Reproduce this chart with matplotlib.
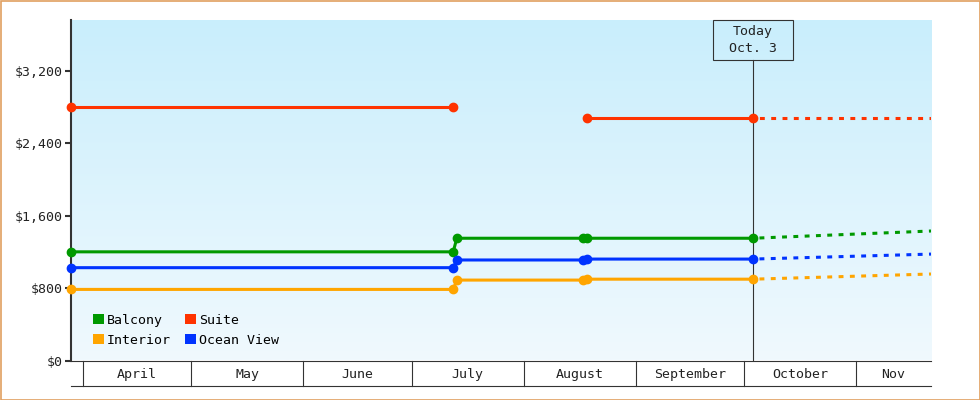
import numpy as np
import matplotlib.pyplot as plt
import matplotlib.dates as mdates
from matplotlib.colors import LinearSegmentedColormap
from matplotlib.patches import Rectangle, Patch

plt.rcParams['font.family'] = 'DejaVu Sans Mono'
plt.rcParams['font.size'] = 9.5

# price history (points are at noon, first point sits at the left edge)
price_dates = np.array(['2023-03-28T17:00', '2023-07-12T12:00', '2023-07-13T12:00',
                        '2023-08-17T12:00', '2023-08-18T12:00', '2023-10-03T12:00'],
                       dtype='datetime64[m]')
balcony = [1200, 1200, 1350, 1350, 1350, 1350]
interior = [785, 785, 888, 888, 898, 898]
ocean_view = [1025, 1025, 1110, 1110, 1120, 1120]
suite = [2800, 2800, np.nan, np.nan, 2675, 2675]

# forecast from today to the right edge
forecast_dates = np.array(['2023-10-03T12:00', '2023-11-21T18:00'], dtype='datetime64[m]')
balcony_fc = [1350, 1430]
interior_fc = [898, 955]
ocean_view_fc = [1120, 1175]
suite_fc = [2675, 2675]

today = np.datetime64('2023-10-03T12:00')
month_starts = np.array(['2023-04-01', '2023-05-01', '2023-06-01', '2023-07-01', '2023-08-01',
                         '2023-09-01', '2023-10-01', '2023-11-01'], dtype='datetime64[m]')
month_names = ['April', 'May', 'June', 'July', 'August', 'September', 'October', 'Nov']

y_ticks = [0, 800, 1600, 2400, 3200]
y_labels = ['$0', '$800', '$1,600', '$2,400', '$3,200']

series = [('Balcony', balcony, balcony_fc, '#009900'),
          ('Interior', interior, interior_fc, '#ffa500'),
          ('Suite', suite, suite_fc, '#ff3300'),
          ('Ocean View', ocean_view, ocean_view_fc, '#0033ff')]

dark = '#333333'
fig = plt.figure(figsize=(9.8, 4), dpi=100)
ax = fig.add_axes([71 / 980, 39.5 / 400, 860 / 980, 340.5 / 400])

# gradient background
cmap = LinearSegmentedColormap.from_list('bg', ['#f0f9fe', '#c9eefc'])
ax.imshow(np.linspace(0, 1, 256).reshape(-1, 1), cmap=cmap, origin='lower', aspect='auto',
          extent=[0, 1, 0, 1], transform=ax.transAxes, zorder=0)

for name, vals, fc, col in series:
    ax.plot(price_dates, vals, color=col, lw=2.2, marker='o', ms=6, clip_on=False, zorder=3)
    ax.plot(forecast_dates, fc, color=col, lw=2.2, linestyle=(1.6, (1.6, 2.1)), zorder=3)

ax.set_xlim(price_dates[0], forecast_dates[-1])
ax.set_ylim(0, 3760)
ax.set_yticks(y_ticks)
ax.set_yticklabels(y_labels)
ax.tick_params(axis='y', length=4, width=1.5, color=dark, pad=2, labelcolor='#222222')
ax.set_xticks([])

for s in ['top', 'right']:
    ax.spines[s].set_visible(False)
ax.spines['left'].set_linewidth(1.5)
ax.spines['left'].set_color(dark)
ax.spines['bottom'].set_linewidth(0.8)
ax.spines['bottom'].set_color(dark)

# month band under the axis
xt = ax.get_xaxis_transform()
band = 25 / 340.5
ax.plot([0, 1], [-band, -band], transform=ax.transAxes, color=dark, lw=0.8, clip_on=False)
for d in month_starts:
    ax.plot([d, d], [0, -band], transform=xt, color=dark, lw=0.8, clip_on=False)
edges = list(month_starts) + [forecast_dates[-1]]
for i, name in enumerate(month_names):
    mid = edges[i] + (edges[i + 1] - edges[i]) / 2
    ax.text(mid, -band / 2, name, transform=xt, ha='center', va='center_baseline',
            color='#222222')

# today marker
box_bottom = (360.5 - 60) / 340.5
ax.plot([today, today], [0, box_bottom], transform=xt, color=dark, lw=0.8, zorder=2)
fig.canvas.draw()
tx = ax.transData.transform((mdates.date2num(today), 0))[0]
fig.patches.append(Rectangle(((tx - 40) / 980, 340 / 400), 80 / 980, 40 / 400,
                             transform=fig.transFigure, fill=False, edgecolor=dark, lw=0.8))
fig.text(tx / 980, 360 / 400, 'Today\nOct. 3', ha='center', va='center', color='#222222',
         linespacing=1.3)

# legend
handles = [Patch(facecolor=c, edgecolor='none') for _, _, _, c in series]
ax.legend(handles, [n for n, _, _, _ in series], ncol=2, loc='lower left',
          bbox_to_anchor=(22 / 860, 14 / 340.5), frameon=False, borderpad=0, borderaxespad=0,
          handlelength=0.8, handleheight=0.8, handletextpad=0.25, columnspacing=1.1,
          labelspacing=0.5)

# orange frame
fig.patches.append(Rectangle((0.5 / 980, 0.5 / 400), 979 / 980, 399 / 400,
                             transform=fig.transFigure, fill=False, edgecolor='#e0a060', lw=1.2))

fig.savefig('out.png', dpi=100)
